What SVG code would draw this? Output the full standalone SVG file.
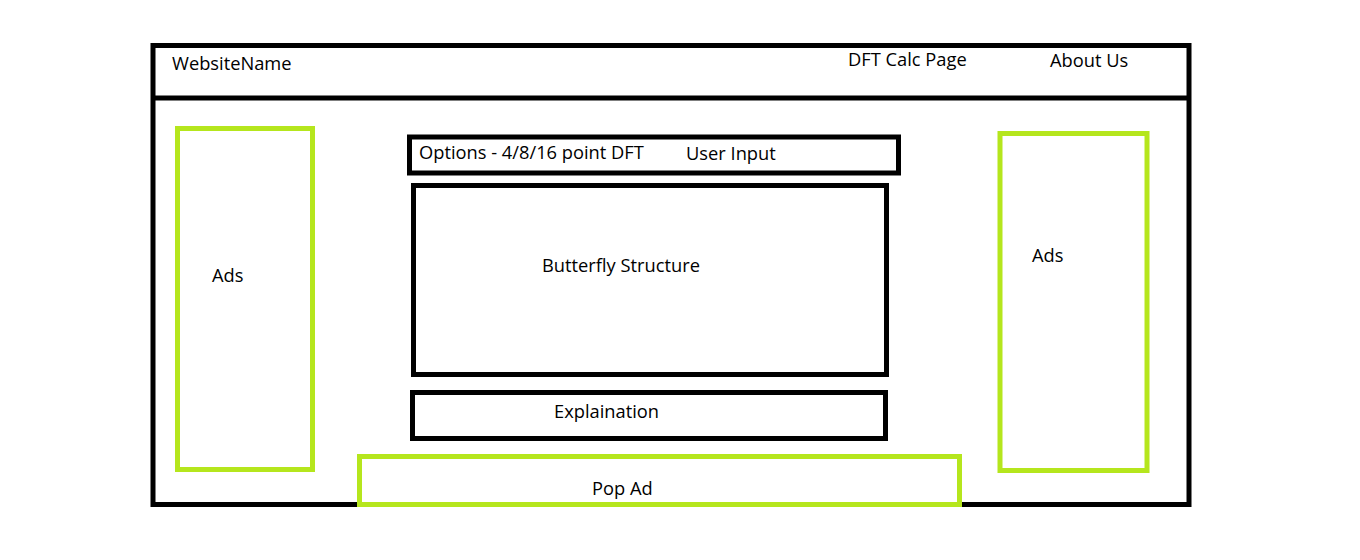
<svg xmlns="http://www.w3.org/2000/svg" width="1360" height="560" viewBox="0 0 1360 560">
<style>
.blk{fill:none;stroke:#000;stroke-width:5}
.grn{fill:none;stroke:#b5e61d;stroke-width:5}
text{font-family:"Open Sans","Liberation Sans",sans-serif;font-size:18.3px;fill:#000}
</style>
<rect width="1360" height="560" fill="#fff"/>
<g id="frame">
<rect class="blk" x="153" y="45.5" width="1036" height="459"/>
<line class="blk" x1="153" y1="98" x2="1189" y2="98"/>
</g>
<g id="header">
<text x="172" y="70">WebsiteName</text>
<text x="848" y="66">DFT Calc Page</text>
<text x="1050" y="67">About Us</text>
</g>
<g id="ads-left">
<rect class="grn" x="177.5" y="128.5" width="135" height="341"/>
<text x="212" y="282">Ads</text>
</g>
<g id="ads-right">
<rect class="grn" x="1000" y="133.5" width="147" height="337"/>
<text x="1032" y="262">Ads</text>
</g>
<g id="options">
<rect class="blk" x="409.5" y="137" width="489" height="36"/>
<text x="419" y="159">Options - 4/8/16 point DFT</text>
<text x="686" y="160">User Input</text>
</g>
<g id="butterfly">
<rect class="blk" x="413.5" y="185.5" width="473" height="189"/>
<text x="542" y="272">Butterfly Structure</text>
</g>
<g id="explanation">
<rect class="blk" x="412.5" y="392.5" width="473" height="46"/>
<text x="554" y="418">Explaination</text>
</g>
<g id="popad">
<rect class="grn" x="359.5" y="456.5" width="600" height="48"/>
<text x="592" y="495">Pop Ad</text>
</g>
<g id="connectors"></g>
</svg>
